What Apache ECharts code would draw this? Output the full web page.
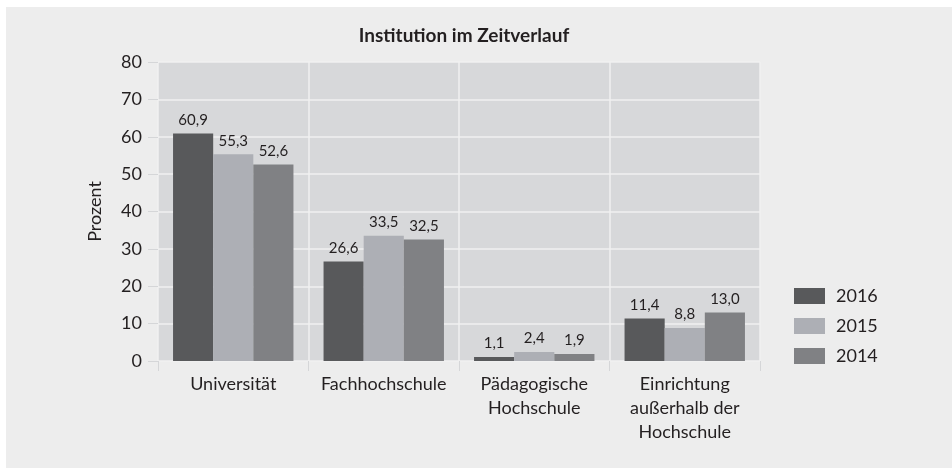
<!DOCTYPE html>
<html>
<head>
<meta charset="utf-8">
<script src="https://cdn.jsdelivr.net/npm/echarts@6/dist/echarts.min.js"></script>
<style>
    body {
        margin: 0;
        background: #ffffff;
    }
    #chart {
        position: absolute;
        left: 6px;
        top: 7px;
        width: 946px;
        height: 461px;
        background: #ededed;
    }
</style>
</head>
<body>
<div id="chart"></div>
<script>
    var categories = ['Universität', 'Fachhochschule', 'Pädagogische\nHochschule', 'Einrichtung\naußerhalb der\nHochschule'];
    var years = ['2016', '2015', '2014'];
    var values2016 = [60.9, 26.6, 1.1, 11.4];
    var values2015 = [55.3, 33.5, 2.4, 8.8];
    var values2014 = [52.6, 32.5, 1.9, 13.0];
    var yTicks = [0, 10, 20, 30, 40, 50, 60, 70, 80];

    var colors = ['#58595b', '#adafb5', '#808184'];
    var font = 'Lato';
    var textColor = '#231f20';

    function barSeries(name, data, color) {
        return {
            name: name,
            type: 'bar',
            data: data,
            barGap: 0,
            barCategoryGap: '20%',
            itemStyle: { color: color },
            label: {
                show: true,
                position: 'top',
                distance: 6,
                fontFamily: font,
                fontSize: 15,
                color: textColor,
                formatter: function (p) {
                    return p.value.toFixed(1).replace('.', ',');
                }
            }
        };
    }

    var myChart = echarts.init(document.getElementById('chart'));
    var option = {
        animation: false,
        textStyle: { fontFamily: font, color: textColor },
        title: {
            text: 'Institution im Zeitverlauf',
            left: 453,
            top: 14,
            textAlign: 'center',
            textStyle: { fontFamily: font, fontSize: 19, fontWeight: 'bold', color: textColor }
        },
        legend: {
            orient: 'vertical',
            left: 783,
            top: 275,
            itemWidth: 31,
            itemHeight: 16,
            itemGap: 12,
            icon: 'rect',
            textStyle: { fontFamily: font, fontSize: 18, color: textColor, padding: [0, 0, 0, 6] },
            data: years
        },
        grid: {
            left: 152,
            top: 55,
            right: 192,
            bottom: 107,
            show: true,
            backgroundColor: '#d7d8da',
            borderWidth: 0
        },
        xAxis: {
            type: 'category',
            data: categories,
            axisLine: { show: false },
            axisTick: { show: true, length: 10, lineStyle: { color: '#d5d6d8', width: 1 } },
            splitLine: { show: true, lineStyle: { color: '#f0f0f0', width: 1.5 } },
            axisLabel: {
                fontFamily: font,
                fontSize: 18,
                color: textColor,
                margin: 11,
                lineHeight: 24,
                interval: 0
            }
        },
        yAxis: {
            type: 'value',
            min: yTicks[0],
            max: yTicks[yTicks.length - 1],
            interval: 10,
            name: 'Prozent',
            nameLocation: 'middle',
            nameGap: 54,
            nameTextStyle: { fontFamily: font, fontSize: 18, color: textColor },
            axisLine: { show: false },
            axisTick: { show: true, length: 10, lineStyle: { color: '#d5d6d8', width: 1 } },
            splitLine: { show: true, lineStyle: { color: '#f0f0f0', width: 1.5 } },
            axisLabel: { fontFamily: font, fontSize: 18, color: textColor, margin: 16 }
        },
        series: [
            barSeries(years[0], values2016, colors[0]),
            barSeries(years[1], values2015, colors[1]),
            barSeries(years[2], values2014, colors[2])
        ]
    };
    myChart.setOption(option);
</script>
</body>
</html>
